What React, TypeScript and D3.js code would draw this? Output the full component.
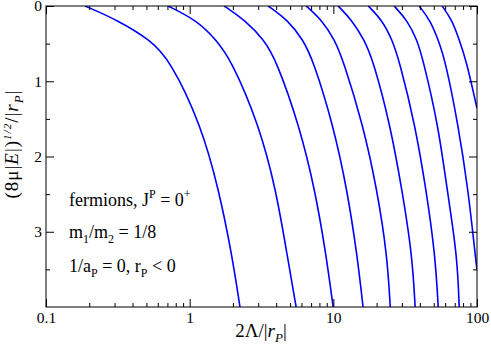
import React, { useEffect, useRef } from "react";
import * as d3 from "d3";

// x positions (2Λ/|r_P|) of each branch at the energy levels below
const levels = [0, 0.19, 0.45, 0.72, 1.58, 2.45, 3.31, 4.0];
const branch1 = [0.187, 0.317, 0.53, 0.731, 1.2, 1.6, 1.97, 2.24];
const branch2 = [0.707, 1.12, 1.53, 1.95, 3.04, 4.0, 4.77, 5.51];
const branch3 = [1.74, 2.43, 3.3, 4.0, 5.78, 7.47, 8.91, 9.97];
const branch4 = [3.52, 4.84, 6.16, 7.23, 9.97, 12.5, 14.65, 16.1];
const branch5 = [6.47, 8.36, 10.2, 11.7, 16.1, 20.2, 23.7, 24.9];
const branch6 = [10.8, 13.5, 16.4, 18.9, 24.9, 30.1, 35.4, 37.1];
const branch7 = [17.5, 21.9, 25.7, 28.7, 37.1, 44.3, 51.2, 53.7];
const branch8 = [26.5, 32.65, 38.3, 42.2, 53.7, 62.0, 72.8, 75.2];
// the last two branches run out through the right edge
const levels9 = [0, 0.19, 0.45, 0.72, 1.58, 2.45, 3.31, 3.51];
const branch9 = [39.6, 47.2, 53.7, 60.1, 74.0, 86.9, 97.2, 100];
const levels10 = [0, 0.19, 0.45, 0.72, 1.36];
const branch10 = [57.2, 67.2, 75.2, 84.1, 100];

const xTicks = [0.1, 1, 10, 100];
const xTickLabels = ["0.1", "1", "10", "100"];
const yTicks = [0, 1, 2, 3];
const yMinorTicks = [0.5, 1.5, 2.5, 3.5];

const font = "'Liberation Serif', 'Times New Roman', serif";

export default function App() {
  const svgRef = useRef<SVGSVGElement>(null);

  const width = 491,
    height = 350;
  const left = 46,
    right = 477,
    top = 6,
    bottom = 307;

  useEffect(() => {
    const svg = d3.select(svgRef.current);
    svg.select(".plot").selectAll("*").remove();
    const g = svg.select(".plot");

    const x = d3.scaleLog().domain([0.1, 100]).range([left, right]);
    const y = d3.scaleLinear().domain([0, 4]).range([top, bottom]);

    const xMinor: number[] = [];
    [0.1, 1, 10].forEach((dec) => {
      for (let k = 2; k <= 9; k++) xMinor.push(dec * k);
    });

    const branches = [
      [levels, branch1],
      [levels, branch2],
      [levels, branch3],
      [levels, branch4],
      [levels, branch5],
      [levels, branch6],
      [levels, branch7],
      [levels, branch8],
      [levels9, branch9],
      [levels10, branch10],
    ].map(([ys, xs]) => xs.map((v, i) => [v, ys[i]] as [number, number]));

    const line = d3
      .line<[number, number]>()
      .x((d) => x(d[0]))
      .y((d) => y(d[1]))
      .curve(d3.curveBasis);

    g.append("defs")
      .append("clipPath")
      .attr("id", "clip")
      .append("rect")
      .attr("x", left)
      .attr("y", top)
      .attr("width", right - left)
      .attr("height", bottom - top);

    g.append("g")
      .attr("clip-path", "url(#clip)")
      .selectAll("path")
      .data(branches)
      .enter()
      .append("path")
      .attr("d", (d) => line(d))
      .attr("fill", "none")
      .attr("stroke", "#0000ff")
      .attr("stroke-width", 1.6);

    const styleAxis = (sel: any) => {
      sel.select(".domain").remove();
      sel.selectAll("line").attr("stroke", "#000").attr("stroke-width", 1);
      sel
        .selectAll("text")
        .attr("fill", "#000")
        .attr("font-family", font)
        .attr("font-size", "15.5px");
    };

    // bottom
    g.append("g")
      .attr("transform", `translate(0,${bottom})`)
      .call(
        d3
          .axisBottom(x)
          .tickValues(xTicks)
          .tickFormat((d, i) => xTickLabels[i])
          .tickSizeInner(-8)
          .tickSizeOuter(0)
          .tickPadding(5)
      )
      .call(styleAxis);
    g.append("g")
      .attr("transform", `translate(0,${bottom})`)
      .call(d3.axisBottom(x).tickValues(xMinor).tickFormat(() => "").tickSizeInner(-4).tickSizeOuter(0))
      .call(styleAxis);
    // top
    g.append("g")
      .attr("transform", `translate(0,${top})`)
      .call(d3.axisTop(x).tickValues(xTicks).tickFormat(() => "").tickSizeInner(-8).tickSizeOuter(0))
      .call(styleAxis);
    g.append("g")
      .attr("transform", `translate(0,${top})`)
      .call(d3.axisTop(x).tickValues(xMinor).tickFormat(() => "").tickSizeInner(-4).tickSizeOuter(0))
      .call(styleAxis);
    // left
    g.append("g")
      .attr("transform", `translate(${left},0)`)
      .call(
        d3
          .axisLeft(y)
          .tickValues(yTicks)
          .tickFormat(d3.format("d"))
          .tickSizeInner(-8)
          .tickSizeOuter(0)
          .tickPadding(4)
      )
      .call(styleAxis);
    g.append("g")
      .attr("transform", `translate(${left},0)`)
      .call(d3.axisLeft(y).tickValues(yMinorTicks).tickFormat(() => "").tickSizeInner(-4).tickSizeOuter(0))
      .call(styleAxis);
    // right
    g.append("g")
      .attr("transform", `translate(${right},0)`)
      .call(d3.axisRight(y).tickValues(yTicks).tickFormat(() => "").tickSizeInner(-8).tickSizeOuter(0))
      .call(styleAxis);
    g.append("g")
      .attr("transform", `translate(${right},0)`)
      .call(d3.axisRight(y).tickValues(yMinorTicks).tickFormat(() => "").tickSizeInner(-4).tickSizeOuter(0))
      .call(styleAxis);

    g.append("rect")
      .attr("x", left)
      .attr("y", top)
      .attr("width", right - left)
      .attr("height", bottom - top)
      .attr("fill", "none")
      .attr("stroke", "#000")
      .attr("stroke-width", 1);
  }, []);

  return (
    <svg
      ref={svgRef}
      width={width}
      height={height}
      style={{ position: "absolute", left: 0, top: 0, background: "#fff" }}
    >
      <g className="plot" />
      <g fontFamily={font} fill="#000">
        <text x={261} y={337} fontSize={19} textAnchor="middle">
          2Λ/|<tspan fontStyle="italic">r</tspan>
          <tspan fontStyle="italic" fontSize={13} dy={5}>P</tspan>
          <tspan dy={-5}>|</tspan>
        </text>
        <text
          transform="translate(18,144) rotate(-90)"
          fontSize={19}
          textAnchor="middle"
          letterSpacing={1}
        >
          (8μ|<tspan fontStyle="italic">E</tspan>|)
          <tspan fontStyle="italic" fontSize={11} dy={-7}>1/2</tspan>
          <tspan dy={7}>/|</tspan>
          <tspan fontStyle="italic">r</tspan>
          <tspan fontStyle="italic" fontSize={13} dy={5}>P</tspan>
          <tspan dy={-5}>|</tspan>
        </text>
        <text x={69} y={206} fontSize={18}>
          fermions, J<tspan fontSize={12} dy={-8}>P</tspan>
          <tspan dy={8}> = 0</tspan>
          <tspan fontSize={12} dy={-8}>+</tspan>
        </text>
        <text x={69} y={238} fontSize={18}>
          m<tspan fontSize={12} dy={5}>1</tspan>
          <tspan dy={-5}>/m</tspan>
          <tspan fontSize={12} dy={5}>2</tspan>
          <tspan dy={-5}> = 1/8</tspan>
        </text>
        <text x={69} y={272} fontSize={18}>
          1/a<tspan fontSize={12} dy={5}>P</tspan>
          <tspan dy={-5}> = 0, r</tspan>
          <tspan fontSize={12} dy={5}>P</tspan>
          <tspan dy={-5}> &lt; 0</tspan>
        </text>
      </g>
    </svg>
  );
}
